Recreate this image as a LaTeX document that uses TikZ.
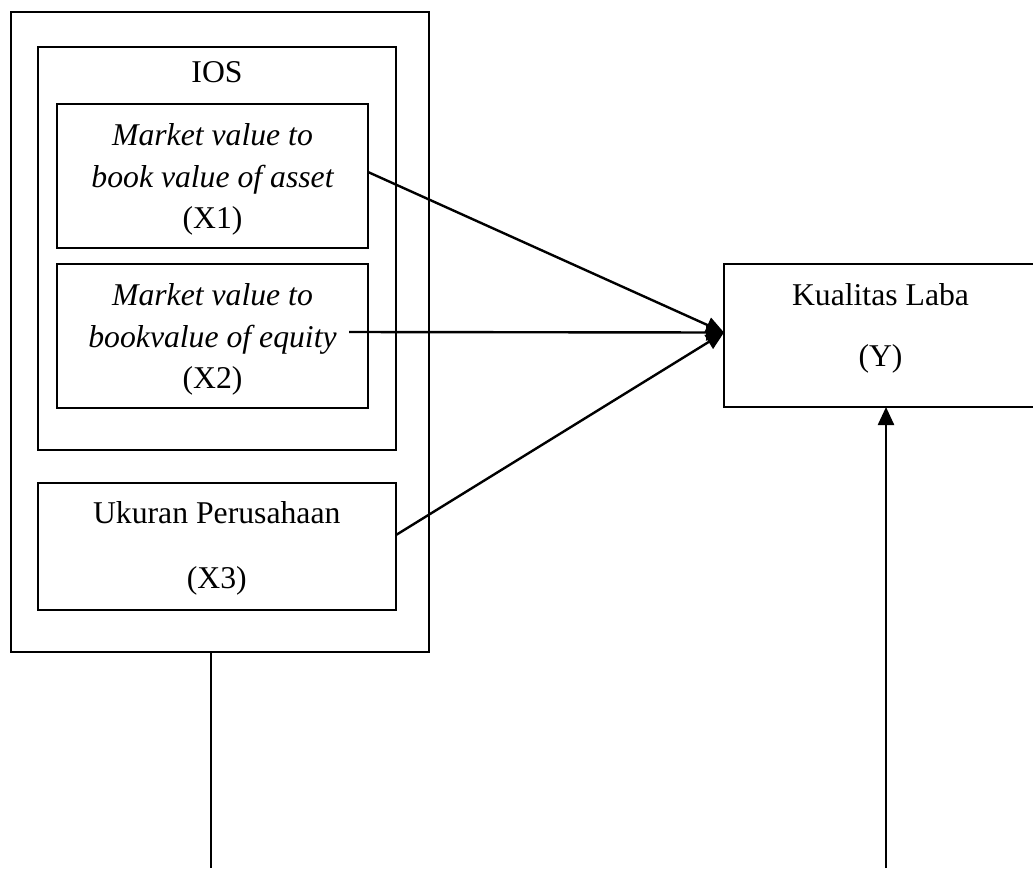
\documentclass[tikz,border=0pt]{standalone}
\usepackage{fontspec}
\setmainfont{Liberation Serif}
\usetikzlibrary{arrows.meta}
\begin{document}
\begin{tikzpicture}[x=1pt,y=-1pt,
  box/.style={draw=black,line width=2pt,inner sep=0pt,outer sep=0pt},
  txt/.style={anchor=base,inner sep=0pt,font=\fontsize{31.7}{38}\selectfont},
  itx/.style={txt,font=\fontsize{31.7}{38}\selectfont\itshape},
  conn/.style={line width=2.4pt},
  arr/.style={conn,-{Triangle[length=18pt,width=16pt]}}]
\useasboundingbox (0,0) rectangle (1033,868);
% boxes
\node[box,minimum width=418pt,minimum height=640pt] (outer) at (220,332) {};
\node[box,minimum width=358pt,minimum height=403pt] (ios) at (217,248.5) {};
\node[box,minimum width=311pt,minimum height=144pt] (x1) at (212.5,176) {};
\node[box,minimum width=311pt,minimum height=144pt] (x2) at (212.5,336) {};
\node[box,minimum width=358pt,minimum height=127pt] (x3) at (217,546.5) {};
\node[box,minimum width=312pt,minimum height=143pt] (y) at (880,335.5) {};
% texts
\node[txt] (tios) at (217,82) {IOS};
\node[itx] (t1a) at (212.5,145) {Market value to};
\node[itx] (t1b) at (212.5,187) {book value of asset};
\node[txt] (t1c) at (212.5,228) {(X1)};
\node[itx] (t2a) at (212.5,305) {Market value to};
\node[itx] (t2b) at (212.5,347) {bookvalue of equity};
\node[txt] (t2c) at (212.5,388) {(X2)};
\node[txt] (t3a) at (216.75,523) {Ukuran Perusahaan};
\node[txt] (t3b) at (216.75,588) {(X3)};
\node[txt] (tya) at (880.5,305) {Kualitas Laba};
\node[txt] (tyb) at (880.5,366) {(Y)};
% connectors
\coordinate (tip) at ([yshift=3pt]y.west);
\coordinate (s2) at (349,332);
\coordinate (b1) at (211,868);
\coordinate (b2) at (886,868);
\draw[arr] ([yshift=4pt]x1.east) -- (tip);
\draw[arr] (s2) -- (tip);
\draw[arr] ([yshift=11.5pt]x3.east) -- (tip);
\draw[conn] (outer.south -| b1) -- (b1);
\draw[arr] (b2) -- (y.south -| b2);
\end{tikzpicture}
\end{document}
